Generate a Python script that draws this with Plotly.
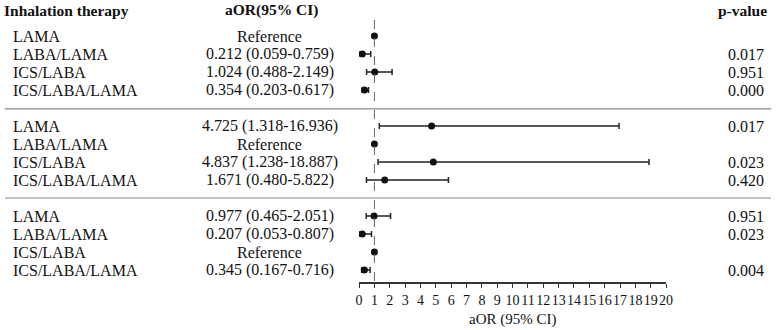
import plotly.graph_objects as go

# ---- data ----
therapies = ["LAMA", "LABA/LAMA", "ICS/LABA", "ICS/LABA/LAMA"]
reference_by_group = ["LAMA", "LABA/LAMA", "ICS/LABA"]

aor_est = [
    [None, 0.212, 1.024, 0.354],
    [4.725, None, 4.837, 1.671],
    [0.977, 0.207, None, 0.345],
]
aor_lo = [
    [None, 0.059, 0.488, 0.203],
    [1.318, None, 1.238, 0.480],
    [0.465, 0.053, None, 0.167],
]
aor_hi = [
    [None, 0.759, 2.149, 0.617],
    [16.936, None, 18.887, 5.822],
    [2.051, 0.807, None, 0.716],
]
p_values = [
    ["", "0.017", "0.951", "0.000"],
    ["0.017", "", "0.023", "0.420"],
    ["0.951", "0.023", "", "0.004"],
]
x_ticks = list(range(0, 21))

FONT = "Liberation Serif"
TXT = "#111111"
W, H = 780, 330

fig = go.Figure()

est_x, est_y, err_plus, err_minus = [], [], [], []
ref_x, ref_y = [], []
annotations = []
for g in range(3):
    for r, name in enumerate(therapies):
        idx = g * 5 + r
        annotations.append(dict(x=8 / W, y=idx, xref="paper", yref="y", text=name,
                                showarrow=False, xanchor="left", yanchor="middle",
                                font=dict(family=FONT, size=16, color=TXT)))
        e = aor_est[g][r]
        if e is None:
            ref_x.append(1)
            ref_y.append(idx)
            txt = "Reference"
        else:
            est_x.append(e)
            est_y.append(idx)
            err_plus.append(aor_hi[g][r] - e)
            err_minus.append(e - aor_lo[g][r])
            txt = f"{e:.3f} ({aor_lo[g][r]:.3f}-{aor_hi[g][r]:.3f})"
        annotations.append(dict(x=270 / W, y=idx, xref="paper", yref="y", text=txt,
                                showarrow=False, xanchor="center", yanchor="middle",
                                font=dict(family=FONT, size=16, color=TXT)))
        if p_values[g][r]:
            annotations.append(dict(x=753 / W, y=idx, xref="paper", yref="y", text=p_values[g][r],
                                    showarrow=False, xanchor="center", yanchor="middle",
                                    font=dict(family=FONT, size=16, color=TXT)))

fig.add_trace(go.Scatter(
    x=est_x, y=est_y, mode="markers",
    marker=dict(size=7, color="#111111"),
    error_x=dict(type="data", symmetric=False, array=err_plus, arrayminus=err_minus,
                 color="#222222", thickness=1.5, width=3),
    showlegend=False, hoverinfo="skip"))
fig.add_trace(go.Scatter(
    x=ref_x, y=ref_y, mode="markers",
    marker=dict(size=7, color="#111111"),
    showlegend=False, hoverinfo="skip"))

hy = -1.44
annotations += [
    dict(x=-1 / W, y=hy, xref="paper", yref="y", text="<b>Inhalation therapy</b>",
         showarrow=False, xanchor="left", yanchor="middle",
         font=dict(family=FONT, size=15.5, color=TXT)),
    dict(x=272 / W, y=hy, xref="paper", yref="y", text="<b>aOR(95% CI)</b>",
         showarrow=False, xanchor="center", yanchor="middle",
         font=dict(family=FONT, size=15.5, color=TXT)),
    dict(x=749 / W, y=hy, xref="paper", yref="y", text="<b>p-value</b>",
         showarrow=False, xanchor="center", yanchor="middle",
         font=dict(family=FONT, size=15.5, color=TXT)),
    dict(x=516 / W, y=1 - 319 / H, xref="paper", yref="paper", text="aOR (95% CI)",
         showarrow=False, xanchor="center", yanchor="middle",
         font=dict(family=FONT, size=15, color=TXT)),
]

y_bottom = (282 - 36) / 18
shapes = [
    dict(type="line", xref="x", yref="y", x0=1, x1=1, y0=-0.89, y1=y_bottom,
         line=dict(color="#666666", width=1, dash="dash")),
    dict(type="line", xref="paper", yref="y", x0=2 / W, x1=778 / W, y0=4.05, y1=4.05,
         line=dict(color="#888888", width=1.2)),
    dict(type="line", xref="paper", yref="y", x0=2 / W, x1=778 / W, y0=9.0, y1=9.0,
         line=dict(color="#888888", width=1.2)),
]

fig.update_layout(
    width=W, height=H,
    margin=dict(l=0, r=0, t=0, b=0),
    paper_bgcolor="white", plot_bgcolor="white",
    annotations=annotations, shapes=shapes,
    xaxis=dict(domain=[360.7 / W, 671.7 / W], range=[0, 20], tickvals=x_ticks,
               ticktext=[str(t) for t in x_ticks], tickangle=0,
               showline=True, linecolor="#333333", linewidth=1.5,
               ticks="outside", ticklen=4, tickwidth=1.2, tickcolor="#333333",
               showgrid=False, zeroline=False,
               tickfont=dict(family=FONT, size=14, color=TXT)),
    yaxis=dict(domain=[1 - 282 / H, 1], range=[y_bottom, -2], visible=False,
               showgrid=False, zeroline=False),
)

fig.write_html("out.html", config={"displayModeBar": False},
               post_script="document.body.style.margin='0';document.body.style.overflow='hidden';")
